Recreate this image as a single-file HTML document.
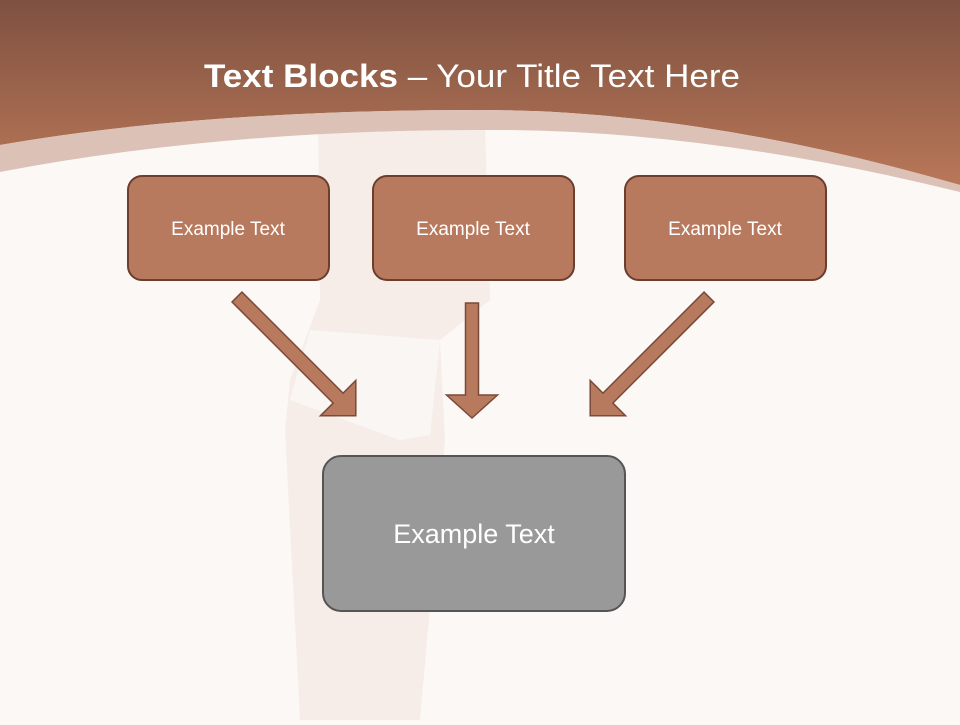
<!DOCTYPE html>
<html><head><meta charset="utf-8"><style>
body{margin:0;width:960px;height:720px;overflow:hidden;background:#fcf8f6;font-family:"Liberation Sans",sans-serif}
</style></head><body>
<svg width="960" height="720" viewBox="0 0 960 720" xmlns="http://www.w3.org/2000/svg">
<defs>
<linearGradient id="g" x1="0" y1="0" x2="0" y2="1">
<stop offset="0" stop-color="#7e5140"/><stop offset="1" stop-color="#b97758"/>
</linearGradient>
</defs>
<rect width="960" height="720" fill="#fcf8f6"/>
<!-- faint figure -->
<path d="M318 120 L485 120 L490 300 L440 340 L445 440 L420 720 L300 720 L285 430 L290 380 L320 300 Z" fill="#f6ede9"/>
<path d="M310 330 L440 340 L430 435 L400 440 L290 400 Z" fill="#faf6f4"/>
<!-- header -->
<path d="M0 0 H960 V185 Q700 110 480 110 Q200 110 0 145 Z" fill="url(#g)"/>
<path d="M0 145 Q200 110 480 110 Q700 110 960 185 V192 Q700 128 480 130 Q220 130 0 172 Z" fill="#dcc1b7"/>
<text x="472" y="87" text-anchor="middle" fill="#fff" font-size="32" textLength="536" lengthAdjust="spacingAndGlyphs"><tspan font-weight="bold">Text Blocks</tspan> – Your Title Text Here</text>
<!-- boxes -->
<g fill="#b87a5e" stroke="#6b3e2e" stroke-width="2">
<rect x="128" y="176" width="201" height="104" rx="14"/>
<rect x="373" y="176" width="201" height="104" rx="14"/>
<rect x="625" y="176" width="201" height="104" rx="14"/>
</g>
<g fill="#fff" font-size="19" text-anchor="middle">
<text x="228" y="235">Example Text</text>
<text x="473" y="235">Example Text</text>
<text x="725" y="235">Example Text</text>
</g>
<rect x="323" y="456" width="302" height="155" rx="18" fill="#999" stroke="#555" stroke-width="2"/>
<text x="474" y="543" text-anchor="middle" fill="#fff" font-size="27">Example Text</text>
<!-- arrows -->
<g fill="#b87a5e" stroke="#7a4a38" stroke-width="1.5">
<polygon transform="translate(472,303)" points="-6.5,0 6.5,0 6.5,92 25.5,92 0,115 -25.5,92 -6.5,92"/>
<polygon transform="translate(237,297) rotate(-45)" points="-7,0 7,0 7,143 25,143 0,168 -25,143 -7,143"/>
<polygon transform="translate(709,297) rotate(45)" points="-7,0 7,0 7,143 25,143 0,168 -25,143 -7,143"/>
</g>
</svg>
</body></html>
